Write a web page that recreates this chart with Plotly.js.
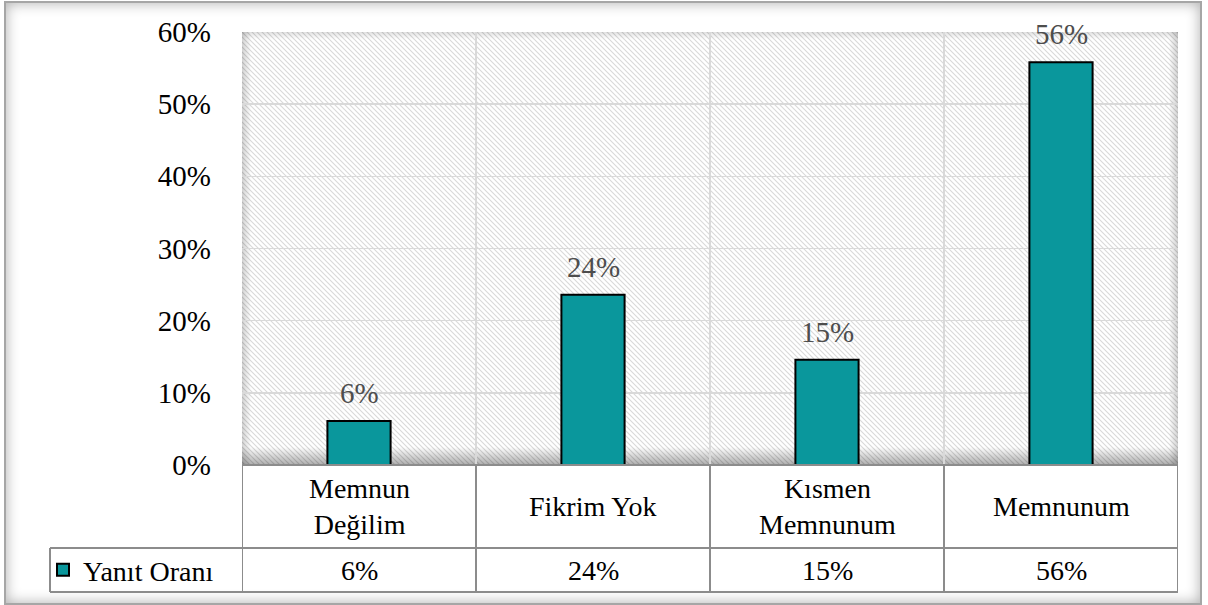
<!DOCTYPE html>
<html>
<head>
<meta charset="utf-8">
<script src="https://cdn.plot.ly/plotly-3.0.1.min.js"></script>
<style>
  html, body { margin: 0; padding: 0; background: #ffffff; }
  #frame {
    position: absolute; left: 4px; top: 1px; width: 1194px; height: 600px;
    border: 2px solid #a6a6a6; background: #ffffff;
    box-shadow: inset 0 0 14px rgba(0,0,0,0.32);
  }
  #chart { position: absolute; left: 0; top: 0; width: 1208px; height: 605px; }
  #chart text { font-family: 'Liberation Serif', 'Times New Roman', serif !important; }
</style>
</head>
<body>
<div id="frame"></div>
<div id="chart"></div>
<script>
// ---- data ----
const categories = ['Memnun Değilim', 'Fikrim Yok', 'Kısmen Memnunum', 'Memnunum'];
const tableLabels = ['Memnun<br>Değilim', 'Fikrim Yok', 'Kısmen<br>Memnunum', 'Memnunum'];
const values = [0.061, 0.236, 0.146, 0.558];
const seriesName = 'Yanıt Oranı';
const yTickVals = [0, 0.1, 0.2, 0.3, 0.4, 0.5, 0.6];

// ---- styling ----
const FONT = 'Liberation Serif';
const LINE = '#8c8c8c';
const ROW1 = 83, ROW2 = 127;          // table row bottoms (px below plot)
const LEG_X = (50 - 242) / 936;       // left edge of the legend cell, paper units

// hatched background with soft inner shadow
const bgSvg =
  '<svg xmlns="http://www.w3.org/2000/svg" width="936" height="433" viewBox="0 0 936 433" preserveAspectRatio="none">' +
  '<defs>' +
  '<pattern id="h" patternUnits="userSpaceOnUse" width="5" height="5">' +
  '<rect width="5" height="5" fill="#ffffff"/>' +
  '<path d="M-1,-1 L6,6 M-1,4 L1,6 M4,-1 L6,1" stroke="#d9d9d9" stroke-width="1.1"/>' +
  '</pattern>' +
  '<linearGradient id="b" x1="0" y1="1" x2="0" y2="0"><stop offset="0" stop-color="#000" stop-opacity="0.32"/><stop offset="1" stop-color="#000" stop-opacity="0"/></linearGradient>' +
  '<linearGradient id="t" x1="0" y1="0" x2="0" y2="1"><stop offset="0" stop-color="#000" stop-opacity="0.12"/><stop offset="1" stop-color="#000" stop-opacity="0"/></linearGradient>' +
  '<linearGradient id="l" x1="0" y1="0" x2="1" y2="0"><stop offset="0" stop-color="#000" stop-opacity="0.18"/><stop offset="1" stop-color="#000" stop-opacity="0"/></linearGradient>' +
  '<linearGradient id="r" x1="1" y1="0" x2="0" y2="0"><stop offset="0" stop-color="#000" stop-opacity="0.18"/><stop offset="1" stop-color="#000" stop-opacity="0"/></linearGradient>' +
  '</defs>' +
  '<rect width="936" height="433" fill="url(#h)"/>' +
  '<rect x="0" y="415" width="936" height="18" fill="url(#b)"/>' +
  '<rect x="0" y="0" width="936" height="7" fill="url(#t)"/>' +
  '<rect x="0" y="0" width="9" height="433" fill="url(#l)"/>' +
  '<rect x="927" y="0" width="9" height="433" fill="url(#r)"/>' +
  '</svg>';
const bgUri = 'data:image/svg+xml;charset=utf-8,' + encodeURIComponent(bgSvg);

const pct = v => Math.round(v * 100) + '%';

const trace = {
  type: 'bar',
  name: seriesName,
  x: categories,
  y: values,
  width: 0.27,
  marker: { color: '#0a979c', line: { color: '#000000', width: 2 } },
  hoverinfo: 'skip'
};

const annotations = [];
categories.forEach((c, i) => {
  // data labels above bars
  annotations.push({
    x: c, xref: 'x', y: values[i], yref: 'y', yshift: 28,
    text: pct(values[i]), showarrow: false, yanchor: 'middle', xanchor: 'center',
    font: { family: FONT, size: 29, color: '#4d4d4d' }
  });
  // table row 1: categories
  annotations.push({
    x: c, xref: 'x', y: 0, yref: 'paper', yshift: -ROW1 / 2,
    text: tableLabels[i], showarrow: false, yanchor: 'middle', xanchor: 'center',
    font: { family: FONT, size: 28, color: '#000000' }
  });
  // table row 2: values
  annotations.push({
    x: c, xref: 'x', y: 0, yref: 'paper', yshift: -(ROW1 + ROW2) / 2,
    text: pct(values[i]), showarrow: false, yanchor: 'middle', xanchor: 'center',
    font: { family: FONT, size: 28, color: '#000000' }
  });
});

// table lines
const shapes = [];
const hline = (x0, x1, xref, off) => ({
  type: 'line', xref: xref, x0: x0, x1: x1,
  yref: 'paper', ysizemode: 'pixel', yanchor: 0, y0: off, y1: off,
  line: { color: LINE, width: 2 }, layer: 'above'
});
shapes.push(hline(-0.5, categories.length - 0.5, 'x', 0));
shapes.push(hline(LEG_X, 1, 'paper', -ROW1));
shapes.push(hline(LEG_X, 1, 'paper', -ROW2));
for (let i = 0; i <= categories.length; i++) {
  shapes.push({
    type: 'line', xref: 'x', x0: i - 0.5, x1: i - 0.5,
    yref: 'paper', ysizemode: 'pixel', yanchor: 0, y0: 0, y1: -ROW2,
    line: { color: LINE, width: 2 }, layer: 'above'
  });
}
shapes.push({
  type: 'line', xref: 'paper', x0: LEG_X, x1: LEG_X,
  yref: 'paper', ysizemode: 'pixel', yanchor: 0, y0: -ROW1, y1: -ROW2,
  line: { color: LINE, width: 2 }, layer: 'above'
});

const layout = {
  width: 1208, height: 605,
  margin: { l: 242, r: 30, t: 32, b: 140, autoexpand: false },
  paper_bgcolor: 'rgba(0,0,0,0)',
  plot_bgcolor: 'rgba(0,0,0,0)',
  font: { family: FONT, color: '#000000' },
  showlegend: true,
  legend: {
    x: (43 - 242) / 936, xanchor: 'left',
    y: -(ROW1 + ROW2) / 2 / 433, yanchor: 'middle',
    bgcolor: 'rgba(0,0,0,0)',
    font: { family: FONT, size: 28, color: '#000000' }
  },
  xaxis: {
    type: 'category',
    range: [-0.5, categories.length - 0.5],
    tickson: 'boundaries',
    showgrid: true, gridcolor: '#d9d9d9', gridwidth: 1.5,
    showticklabels: false, ticks: '', zeroline: false, showline: false,
    fixedrange: true
  },
  yaxis: {
    range: [0, 0.6],
    tickvals: yTickVals,
    tickformat: '.0%',
    showgrid: true, gridcolor: '#d9d9d9', gridwidth: 1.5,
    zeroline: false, showline: false, ticks: '',
    ticklabelstandoff: 30,
    tickfont: { family: FONT, size: 29, color: '#000000' },
    fixedrange: true
  },
  images: [{
    source: bgUri, xref: 'paper', yref: 'paper', x: 0, y: 1,
    sizex: 1, sizey: 1, sizing: 'stretch', xanchor: 'left', yanchor: 'top',
    layer: 'below'
  }],
  annotations: annotations,
  shapes: shapes,
  bargap: 0
};

Plotly.newPlot('chart', [trace], layout, { displayModeBar: false, staticPlot: true });
</script>
</body>
</html>
